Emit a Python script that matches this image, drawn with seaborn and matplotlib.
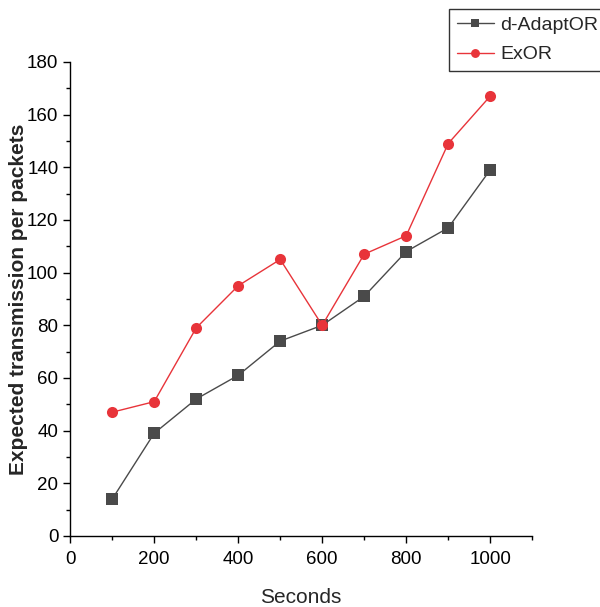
import seaborn as sns
import matplotlib.pyplot as plt
import pandas as pd
from matplotlib.ticker import MultipleLocator

# Data
seconds = [100, 200, 300, 400, 500, 600, 700, 800, 900, 1000]
d_adaptor = [14, 39, 52, 61, 74, 80, 91, 108, 117, 139]
exor = [47, 51, 79, 95, 105, 80, 107, 114, 149, 167]

df = pd.DataFrame({
    'Seconds': seconds * 2,
    'Value': d_adaptor + exor,
    'Method': ['d-AdaptOR'] * len(seconds) + ['ExOR'] * len(seconds),
})

sns.set_style('ticks')
plt.rcParams['font.family'] = ['Liberation Sans', 'DejaVu Sans']

fig = plt.figure(figsize=(6, 6.07), dpi=100)
ax = fig.add_axes([0.117, 0.117, 0.77, 0.781])

sns.lineplot(data=df, x='Seconds', y='Value', hue='Method', style='Method',
             palette={'d-AdaptOR': '#4a4a4a', 'ExOR': '#e8343a'},
             markers={'d-AdaptOR': 's', 'ExOR': 'o'}, dashes=False,
             markersize=8, markeredgewidth=0, linewidth=1, ax=ax)

ax.set_xlim(0, 1100)
ax.set_ylim(0, 180)
ax.xaxis.set_major_locator(MultipleLocator(200))
ax.xaxis.set_minor_locator(MultipleLocator(100))
ax.yaxis.set_major_locator(MultipleLocator(20))
ax.yaxis.set_minor_locator(MultipleLocator(10))
ax.set_xticks([0, 200, 400, 600, 800, 1000])
ax.tick_params(axis='both', which='major', labelsize=13.5, length=5, width=1,
               color='black', labelcolor='black')
ax.tick_params(axis='x', which='major', pad=6)
ax.tick_params(axis='both', which='minor', length=3, width=1, color='black')
for s in ['top', 'right']:
    ax.spines[s].set_visible(False)
for s in ['left', 'bottom']:
    ax.spines[s].set_color('black')
    ax.spines[s].set_linewidth(1)

ax.set_xlabel('Seconds', fontsize=15, labelpad=14)
ax.set_ylabel('Expected transmission per packets', fontsize=15, fontweight='bold', labelpad=-1)

leg = ax.legend(title=None, loc='upper left', bbox_to_anchor=(0.82, 1.112),
                fontsize=14, frameon=True, fancybox=False, edgecolor='black',
                handlelength=1.9, borderpad=0.4, labelspacing=0.6, handletextpad=0.35,
                borderaxespad=0, markerscale=0.8)
leg.get_frame().set_linewidth(1)

fig.savefig('out.png', dpi=100)
